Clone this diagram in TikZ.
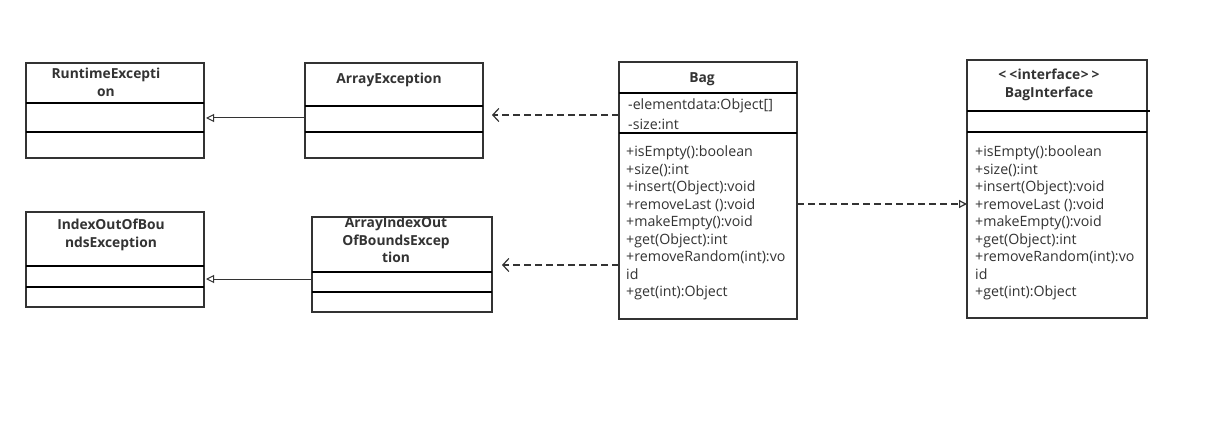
\documentclass[tikz,border=0pt]{standalone}
\usepackage{fontspec}
\setmainfont{Open Sans}
\usetikzlibrary{arrows.meta}
\definecolor{ink}{HTML}{333333}
\begin{document}
\begin{tikzpicture}[x=1pt,y=-1pt,
 cls/.style={draw=ink, line width=1.1pt, anchor=north west, inner sep=0pt, outer sep=0pt},
 sep/.style={line width=2.8pt, black},
 ttl/.style={font=\fontsize{13.8}{17.5}\selectfont\bfseries, align=center, text=ink, inner sep=0pt},
 mem/.style={font=\fontsize{14.2}{17.5}\selectfont, anchor=base west, inner sep=0pt, text=ink},
 gen/.style={-{Triangle[open, length=8pt, width=8pt, line width=1pt]}, line width=1pt, draw=ink},
 dep/.style={dash pattern=on 7pt off 4pt, -{Straight Barb[length=6pt, width=13pt, line width=1.2pt]}, line width=1.2pt, draw=ink},
 real/.style={dash pattern=on 7pt off 4pt, -{Triangle[open, length=8pt, width=8pt, line width=1.2pt]}, line width=1.2pt, draw=ink}]
\useasboundingbox[fill=white] (0,0) rectangle (1207,422);

% classes
\node[cls, minimum width=178pt, minimum height=95pt] (rt) at (26,63) {};
\node[cls, minimum width=178pt, minimum height=95pt] (ae) at (305,63) {};
\node[cls, minimum width=178pt, minimum height=95pt] (iob) at (26,212) {};
\node[cls, minimum width=180pt, minimum height=95pt] (aio) at (312,217) {};
\node[cls, minimum width=178pt, minimum height=257pt] (bag) at (619,62) {};
\node[cls, minimum width=180pt, minimum height=258pt] (bi) at (967,60) {};

% separators
\draw[sep] (rt.west |- 0,103) -- (rt.east |- 0,103);
\draw[sep] (rt.west |- 0,132) -- (rt.east |- 0,132);
\draw[sep] (ae.west |- 0,106) -- (ae.east |- 0,106);
\draw[sep] (ae.west |- 0,132) -- (ae.east |- 0,132);
\draw[sep] (iob.west |- 0,266) -- (iob.east |- 0,266);
\draw[sep] (iob.west |- 0,287) -- (iob.east |- 0,287);
\draw[sep] (aio.west |- 0,272) -- (aio.east |- 0,272);
\draw[sep] (aio.west |- 0,292) -- (aio.east |- 0,292);
\draw[sep] (bag.west |- 0,93) -- (bag.east |- 0,93);
\draw[sep] (bag.west |- 0,133) -- (bag.east |- 0,133);
\draw[sep] (bi.west |- 0,111) -- ([xshift=3pt]bi.east |- 0,111);
\draw[sep] (bi.west |- 0,132) -- (bi.east |- 0,132);

% titles
\node[ttl] (rtt) at (106,82.5) {RuntimeExcepti\\on};
\node[ttl] (aet) at (389,80) {ArrayException};
\node[ttl] (iobt) at (111,235) {IndexOutOfBou\\ndsException};
\node[ttl] (aiot) at (396,240) {ArrayIndexOut\\OfBoundsExcep\\tion};
\node[ttl] (bagt) at (702,79) {Bag};
\node[ttl] (bit) at (1049,85) {\textless\kern3pt\textless\kern0.5pt interface\kern0.5pt\textgreater\kern3pt\textgreater\\BagInterface};

% attributes
\node[mem] (ba1) at (628,110) {-elementdata:Object[]};
\node[mem] (ba2) at (628,130) {-size:int};

% methods
\foreach \t [count=\i] in {+isEmpty():boolean,+size():int,+insert(Object):void,+removeLast ():void,+makeEmpty():void,+get(Object):int,+removeRandom(int):vo,id,+get(int):Object}{
  \node[mem] (bm\i) at (626,{156.5+(\i-1)*17.55}) {\t};
  \node[mem] (im\i) at (975,{156.5+(\i-1)*17.55}) {\t};
}

% connectors
\coordinate (g1s) at (ae.west |- 0,118);
\coordinate (g1e) at (rt.east |- 0,118);
\draw[gen, shorten >=2pt] (g1s) -- (g1e);
\coordinate (g2s) at (aio.west |- 0,279);
\coordinate (g2e) at (iob.east |- 0,279);
\draw[gen, shorten >=2pt] (g2s) -- (g2e);
\coordinate (d1s) at (bag.west |- 0,115);
\coordinate (d1e) at (ae.east |- 0,115);
\draw[dep, shorten >=9pt] (d1s) -- (d1e);
\coordinate (d2s) at (bag.west |- 0,265);
\coordinate (d2e) at (aio.east |- 0,265);
\draw[dep, shorten >=10pt] (d2s) -- (d2e);
\coordinate (rs) at (bag.east |- 0,204);
\coordinate (re) at (bi.west |- 0,204);
\draw[real] (rs) -- (re);
\end{tikzpicture}
\end{document}
